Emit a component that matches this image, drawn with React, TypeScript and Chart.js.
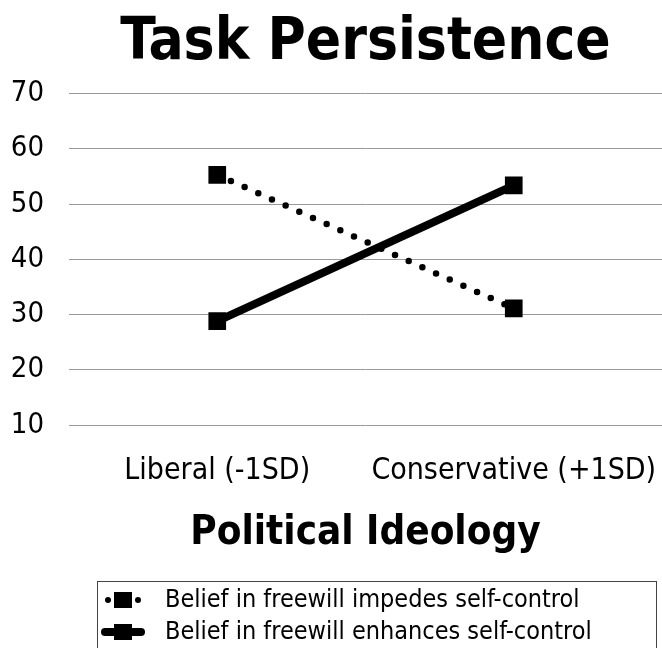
import React, { useEffect, useRef } from 'react';
import { Chart, registerables } from 'chart.js';

Chart.register(...registerables);

const categories = ['Liberal (-1SD)', 'Conservative (+1SD)'];
const impedesValues = [55.3, 31.1];
const enhancesValues = [28.8, 53.4];
const seriesLabels = [
  'Belief in freewill impedes self-control',
  'Belief in freewill enhances self-control',
];
const yMin = 10;
const yMax = 70;
const yStep = 10;
const chartTitle = 'Task Persistence';
const xAxisTitle = 'Political Ideology';

const FONT = '"DejaVu Sans Condensed", "DejaVu Sans", sans-serif';

const boxLegend = {
  id: 'boxLegend',
  afterDraw(chart: any) {
    const ctx = chart.ctx as CanvasRenderingContext2D;
    const left = 97;
    const top = 581;
    ctx.save();
    ctx.strokeStyle = '#444';
    ctx.lineWidth = 1;
    ctx.strokeRect(left + 0.5, top + 0.5, 559, 120);
    const rowY = [top + 19, top + 51];
    chart.data.datasets.forEach((ds: any, i: number) => {
      const y = rowY[i];
      const cx = left + 26;
      ctx.fillStyle = '#000';
      ctx.strokeStyle = '#000';
      if (i === 0) {
        ctx.beginPath();
        ctx.arc(cx - 15, y, 3, 0, Math.PI * 2);
        ctx.fill();
        ctx.beginPath();
        ctx.arc(cx + 15, y, 3, 0, Math.PI * 2);
        ctx.fill();
        ctx.fillRect(cx - 9, y - 8, 18, 16);
      } else {
        ctx.lineWidth = 8;
        ctx.lineCap = 'round';
        ctx.beginPath();
        ctx.moveTo(cx - 18, y);
        ctx.lineTo(cx + 18, y);
        ctx.stroke();
        ctx.fillRect(cx - 9, y - 8, 18, 16);
      }
      ctx.font = `25px ${FONT}`;
      ctx.textBaseline = 'middle';
      ctx.textAlign = 'left';
      ctx.fillText(ds.label, 165, y);
    });
    ctx.restore();
  },
};

export default function App() {
  const ref = useRef<HTMLCanvasElement>(null);
  useEffect(() => {
    document.body.style.margin = '0';
    const chart = new Chart(ref.current!, {
      type: 'line',
      data: {
        labels: categories,
        datasets: [
          {
            label: seriesLabels[0],
            data: impedesValues,
            borderColor: '#000',
            backgroundColor: '#000',
            borderWidth: 6.5,
            borderDash: [0, 15],
            borderCapStyle: 'round',
            pointStyle: 'rect',
            pointRadius: 12.5,
            pointBackgroundColor: '#000',
            pointBorderWidth: 0,
          },
          {
            label: seriesLabels[1],
            data: enhancesValues,
            borderColor: '#000',
            backgroundColor: '#000',
            borderWidth: 8,
            pointStyle: 'rect',
            pointRadius: 12.5,
            pointBackgroundColor: '#000',
            pointBorderWidth: 0,
          },
        ],
      },
      options: {
        responsive: false,
        animation: false,
        layout: { autoPadding: false, padding: { top: 0, right: 0, bottom: 70, left: 0 } },
        plugins: {
          legend: { display: false },
          tooltip: { enabled: false },
          title: {
            display: true,
            text: chartTitle,
            fullSize: false,
            color: '#000',
            font: { family: FONT, size: 58, weight: 'bold' },
            padding: { top: 9, bottom: 15 },
          },
        },
        scales: {
          x: {
            offset: true,
            grid: { display: false, drawTicks: false },
            border: { display: false },
            ticks: {
              color: '#000',
              padding: 28,
              maxRotation: 0,
              minRotation: 0,
              autoSkip: false,
              font: { family: FONT, size: 30 },
            },
            title: {
              display: true,
              text: xAxisTitle,
              color: '#000',
              font: { family: FONT, size: 40, weight: 'bold' },
              padding: { top: 0, bottom: 20 },
            },
            afterFit: (s: any) => {
              s.height = 153;
              s.paddingLeft = 0;
              s.paddingRight = 0;
            },
          },
          y: {
            min: yMin,
            max: yMax,
            ticks: {
              stepSize: yStep,
              color: '#000',
              padding: 25,
              font: { family: FONT, size: 29 },
            },
            grid: { color: '#999999', lineWidth: 1, drawTicks: false },
            border: { display: false },
            afterFit: (s: any) => {
              s.width = 69;
            },
          },
        },
      },
      plugins: [boxLegend],
    });
    return () => chart.destroy();
  }, []);
  return <canvas ref={ref} width={662} height={648} />;
}
